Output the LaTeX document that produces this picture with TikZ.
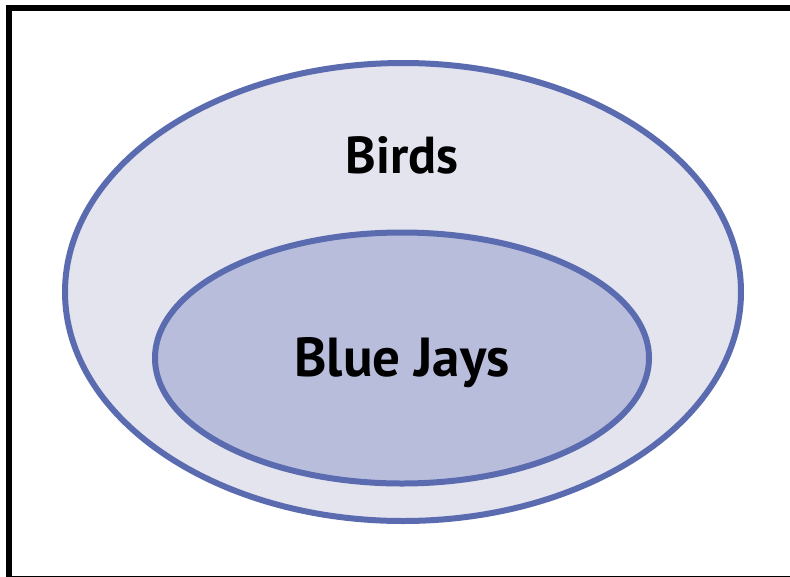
\documentclass[tikz,border=0pt]{standalone}
\usepackage{fontspec}
\setmainfont{PT Sans}
\usetikzlibrary{shapes.geometric,positioning}
\definecolor{setline}{HTML}{5A6BAF}
\definecolor{outerfill}{HTML}{E4E4EF}
\definecolor{innerfill}{HTML}{B9BDDC}

\begin{document}
\begin{tikzpicture}[x=1pt,y=-1pt,
    set/.style={ellipse,draw=setline,line width=6pt,inner sep=0pt},
    label/.style={font=\bfseries,anchor=base}]
    \clip (0,0) rectangle (790,576);
    \draw[line width=6pt] (9,8) rectangle (795,579);

    \node[set,fill=outerfill,minimum width=676pt,minimum height=458pt] (birds) at (403,292) {};
    \node[set,fill=innerfill,minimum width=494pt,minimum height=251pt] (jays) at (402,358) {};

    \node[label,font=\bfseries\fontsize{52}{62}\selectfont] (birdsl) at (402,173) {Birds};
    \node[label,font=\bfseries\fontsize{55}{66}\selectfont] (jaysl) at (402,376) {Blue Jays};
  \end{tikzpicture}
\end{document}
